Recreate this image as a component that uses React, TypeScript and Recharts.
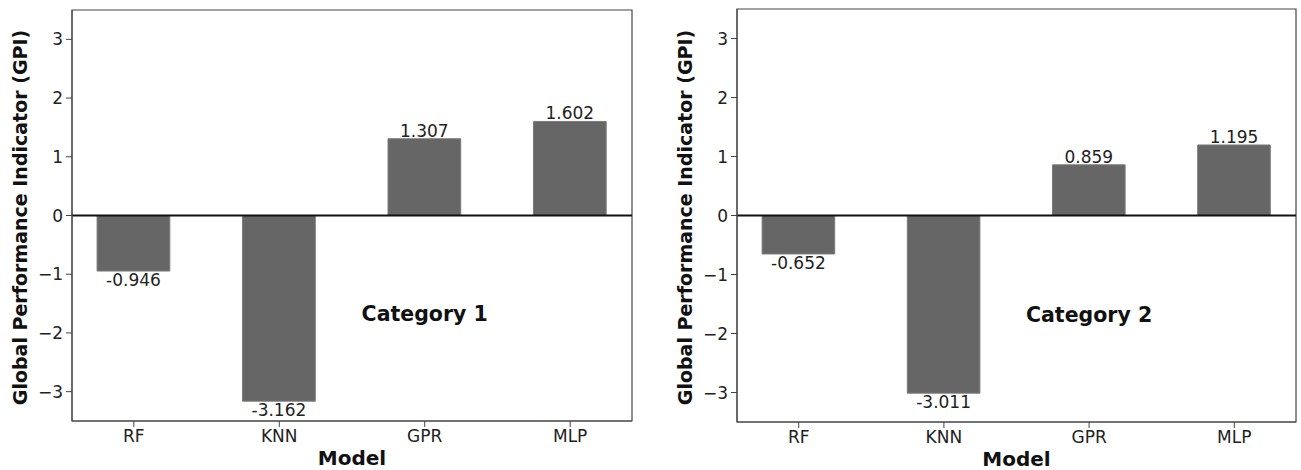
import React from 'react';
import {
  BarChart,
  Bar,
  XAxis,
  YAxis,
  ReferenceLine,
  ReferenceArea,
  ReferenceDot,
  LabelList,
  Label,
} from 'recharts';

const models = ['RF', 'KNN', 'GPR', 'MLP'];
const category1Gpi = [-0.946, -3.162, 1.307, 1.602];
const category2Gpi = [-0.652, -3.011, 0.859, 1.195];
const yTicks = [-3, -2, -1, 0, 1, 2, 3];
const xTicks = [0, 1, 2, 3];

const FONT = '"DejaVu Sans", "Liberation Sans", sans-serif';
const X_DOMAIN: [number, number] = [-0.425, 3.425];
const Y_DOMAIN: [number, number] = [-3.5, 3.5];

const minus = (v: number) => String(v).replace('-', '\u2212');

function ValueLabel(props: any) {
  const { x, y, width, height, value } = props;
  const cx = x + width / 2;
  // negative bars can come with a negative height, so take min/max
  const top = Math.min(y, y + height);
  const bottom = Math.max(y, y + height);
  const ty = value >= 0 ? top - 2 : bottom + 15;
  return (
    <text x={cx} y={ty} textAnchor="middle" fontSize={17} fill="#222" fontFamily={FONT}>
      {value.toFixed(3)}
    </text>
  );
}

interface PanelProps {
  values: number[];
  title: string;
  left: number;
  top: number;
  width: number;
  height: number;
  margin: { top: number; right: number; bottom: number; left: number };
}

function Panel({ values, title, left, top, width, height, margin }: PanelProps) {
  const data = models.map((m, i) => ({ x: i, model: m, gpi: values[i] }));
  const plotW = width - margin.left - margin.right - 50;
  const barSize = (plotW / (X_DOMAIN[1] - X_DOMAIN[0])) * 0.5;

  return (
    <div style={{ position: 'absolute', left, top }}>
      <BarChart width={width} height={height} data={data} margin={margin}>
        <XAxis
          type="number"
          dataKey="x"
          domain={X_DOMAIN}
          ticks={xTicks}
          allowDataOverflow
          tickFormatter={(i: number) => models[i]}
          tick={{ fontSize: 17, fill: '#222', fontFamily: FONT }}
          tickSize={6}
          tickMargin={3}
          stroke="#444"
          height={30}
        >
          <Label
            content={({ viewBox }: any) => (
              <text
                x={viewBox.x + viewBox.width / 2}
                y={viewBox.y + 44}
                textAnchor="middle"
                fontSize={20}
                fontWeight="bold"
                fill="#111"
                fontFamily={FONT}
              >
                Model
              </text>
            )}
          />
        </XAxis>
        <YAxis
          type="number"
          domain={Y_DOMAIN}
          ticks={yTicks}
          allowDataOverflow
          tickFormatter={minus}
          tick={{ fontSize: 17, fill: '#222', fontFamily: FONT }}
          tickSize={6}
          tickMargin={3}
          width={50}
          stroke="#444"
        >
          <Label
            content={({ viewBox }: any) => {
              const lx = viewBox.x - 2;
              const ly = viewBox.y + viewBox.height / 2 + 2;
              return (
                <text
                  x={lx}
                  y={ly}
                  transform={`rotate(-90, ${lx}, ${ly})`}
                  textAnchor="middle"
                  dominantBaseline="central"
                  fontSize={19}
                  fontWeight="bold"
                  fill="#111"
                  fontFamily={FONT}
                >
                  Global Performance Indicator (GPI)
                </text>
              );
            }}
          />
        </YAxis>
        <ReferenceArea
          x1={X_DOMAIN[0]}
          x2={X_DOMAIN[1]}
          y1={Y_DOMAIN[0]}
          y2={Y_DOMAIN[1]}
          fill="none"
          stroke="#444"
          strokeWidth={1.2}
          ifOverflow="visible"
        />
        <Bar dataKey="gpi" fill="#666666" stroke="#7a7a7a" strokeWidth={1} barSize={barSize} isAnimationActive={false}>
          <LabelList dataKey="gpi" content={ValueLabel} />
        </Bar>
        <ReferenceLine y={0} stroke="#111" strokeWidth={1.8} />
        <ReferenceDot
          x={2}
          y={-1.68}
          r={0}
          fill="none"
          stroke="none"
          label={{
            value: title,
            position: 'center',
            fontSize: 20.5,
            fontWeight: 'bold',
            fill: '#111',
            fontFamily: FONT,
          }}
        />
      </BarChart>
    </div>
  );
}

export default function App() {
  return (
    <div
      style={{
        position: 'absolute',
        left: 0,
        top: 0,
        width: 1301,
        height: 470,
        background: '#fff',
        fontFamily: FONT,
      }}
    >
      <Panel
        values={category1Gpi}
        title="Category 1"
        left={0}
        top={0}
        width={650}
        height={470}
        margin={{ top: 10, right: 18, bottom: 19, left: 22 }}
      />
      <Panel
        values={category2Gpi}
        title="Category 2"
        left={650}
        top={0}
        width={651}
        height={470}
        margin={{ top: 9, right: 5, bottom: 18, left: 37 }}
      />
    </div>
  );
}
